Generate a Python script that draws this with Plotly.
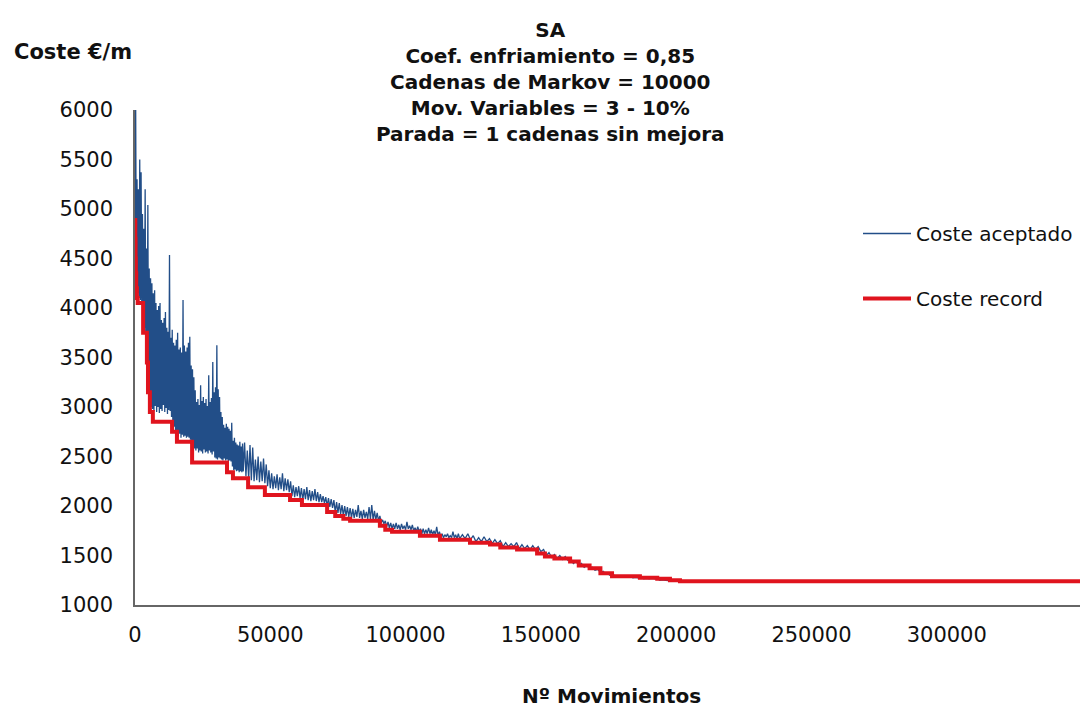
import plotly.graph_objects as go

# ---- data ----
# Coste aceptado, stretch 1: every 250 moves from 0
blue_step1 = 250
blue_seg1 = [4890, 6000, 4220, 5300, 4150, 5200, 4100, 5500, 4080, 5370,
             4060, 4950, 3900, 4800, 3800, 5200, 3600, 4600, 3450, 5040,
             3200, 4400, 3050, 4300, 3000, 4250, 2980, 4150, 2960, 4180,
             3010, 4050, 2950, 3980, 3000, 4020, 2940, 4050, 2980, 3880,
             2960, 3850, 3020, 3900, 2950, 3960, 2990, 3800, 2930, 3760,
             2970, 4535, 2960, 3700, 2900, 3780, 2820, 3650, 2800, 3620,
             2760, 3680, 2720, 3750, 2700, 3580, 2730, 3600, 2690, 3550,
             2720, 4080, 2700, 3620, 2710, 3560, 2690, 3600, 2700, 3650,
             2690, 3710, 2670, 3420, 2650, 3380, 2600, 3300, 2580, 3170,
             2560, 3050, 2580, 3080, 2540, 3020, 2560, 3220, 2550, 3060,
             2530, 3100, 2570, 3040, 2540, 3080, 2550, 3010, 2530, 3320,
             2560, 3050, 2540, 3090, 2520, 3455, 2550, 3150, 2490, 3200,
             2480, 3625, 2470, 3180, 2490, 3100, 2480, 2950, 2470, 2900,
             2460, 2820, 2480, 2790, 2460, 2830, 2470, 2800, 2450, 2780,
             2460, 2760, 2450, 2840, 2400, 2660, 2360, 2690, 2370, 2640,
             2350, 2620, 2360, 2610, 2340, 2650, 2350, 2600, 2340, 2630]
# stretch 2: every 500 moves from 40000
blue_start2 = 40000
blue_step2 = 500
blue_seg2 = [2350, 2640, 2300, 2560, 2270, 2616, 2260, 2590, 2250, 2470,
             2260, 2500, 2240, 2450, 2250, 2480, 2230, 2420, 2200, 2360,
             2180, 2330, 2170, 2300, 2180, 2320, 2160, 2290, 2170, 2330,
             2150, 2280, 2160, 2270, 2140, 2250, 2100, 2210, 2090, 2190,
             2100, 2200, 2080, 2180, 2060, 2170, 2070, 2190, 2060, 2160,
             2050, 2150, 2060, 2170, 2050, 2140, 2040, 2120, 2040, 2100,
             2030, 2090, 2000, 2080, 1990, 2070, 1980, 2060, 1940, 2040,
             1930, 2030, 1920, 2010, 1900, 2000, 1900, 1990, 1890, 1980,
             1880, 1970, 1880, 1960, 1890, 2010, 1880, 1950, 1870, 1960,
             1880, 1940, 1870, 1990, 1870, 2010, 1860, 1950, 1860, 1930,
             1850, 1900, 1830, 1860, 1820, 1850, 1790, 1840, 1780, 1830,
             1770, 1820, 1770, 1830, 1770, 1810, 1760, 1820, 1770, 1800,
             1760, 1840, 1770, 1800, 1760, 1810, 1750, 1780, 1740, 1790,
             1740, 1770, 1720, 1770, 1720, 1760, 1720, 1780, 1720, 1760,
             1710, 1750, 1710, 1790, 1700, 1740, 1690, 1720, 1680, 1710,
             1690, 1720, 1680, 1700, 1680, 1740, 1680, 1710, 1670, 1720]
# stretch 3: every 1000 moves from 120000
blue_start3 = 120000
blue_step3 = 1000
blue_seg3 = [1670, 1710, 1670, 1720, 1660, 1700, 1640, 1680, 1640, 1690,
             1640, 1670, 1620, 1660, 1620, 1650, 1590, 1630, 1590, 1620,
             1590, 1630, 1570, 1610, 1570, 1600, 1560, 1600, 1560, 1590,
             1540, 1560, 1500, 1530, 1480, 1510, 1470, 1500, 1460, 1490,
             1450, 1470, 1420, 1440, 1400, 1420, 1380, 1400, 1370, 1380,
             1350, 1360, 1330, 1340, 1310, 1310, 1290, 1300, 1290, 1290,
             1280, 1290, 1280, 1290, 1275, 1280, 1275, 1280, 1265, 1270,
             1265, 1270, 1265, 1265, 1250, 1255, 1250, 1250, 1245, 1245,
             1240]
blue_end_x = 352000
blue_end_y = 1240

# Coste record (step line)
red_x = [0, 100, 200, 300, 450, 700, 1000, 3000, 4400, 4800, 5500, 6600,
         13700, 15500, 21100, 34000, 36200, 41800, 48000, 57300, 61700,
         71000, 74000, 77000, 79500, 90500, 92500, 95000, 105300, 112700,
         123800, 131200, 135000, 141200, 148600, 151500, 155000, 160800,
         164000, 168000, 172000, 176300, 186600, 193000, 197700, 201400,
         352000]
red_y = [4890, 4700, 4500, 4350, 4200, 4100, 4050, 3750, 3450, 3150, 2950,
         2850, 2750, 2650, 2440, 2340, 2280, 2190, 2110, 2060, 2010, 1940,
         1900, 1870, 1850, 1800, 1760, 1740, 1700, 1660, 1630, 1610, 1580,
         1560, 1520, 1490, 1470, 1440, 1400, 1370, 1320, 1290, 1275, 1265,
         1250, 1240, 1240]

y_ticks = [1000, 1500, 2000, 2500, 3000, 3500, 4000, 4500, 5000, 5500, 6000]
x_ticks = [0, 50000, 100000, 150000, 200000, 250000, 300000]

title_lines = ["SA", "Coef. enfriamiento = 0,85", "Cadenas de Markov = 10000",
               "Mov. Variables = 3 - 10%", "Parada = 1 cadenas sin mejora"]
y_title = "Coste €/m"
x_title = "Nº Movimientos"
name_blue = "Coste aceptado"
name_red = "Coste record"

# ---- build series ----
blue_x = ([i * blue_step1 for i in range(len(blue_seg1))] +
          [blue_start2 + i * blue_step2 for i in range(len(blue_seg2))] +
          [blue_start3 + i * blue_step3 for i in range(len(blue_seg3))] +
          [blue_end_x])
blue_y = blue_seg1 + blue_seg2 + blue_seg3 + [blue_end_y]

FONT = "DejaVu Sans"
# page body has an 8px margin, so the figure is 8px smaller and margins shifted
W, H = 1080, 703
L, T = 127, 102
PW, PH = 953, 495


def px_x(sx):
    return (sx - 135) / PW


def px_y(sy):
    return 1 - (sy - 110) / PH


fig = go.Figure()
fig.add_trace(go.Scatter(x=blue_x, y=blue_y, mode="lines", name=name_blue,
                         line=dict(color="#224E88", width=1.3),
                         legendgroup="a"))
fig.add_trace(go.Scatter(x=red_x, y=red_y, mode="lines", name=name_red,
                         line=dict(color="#E0141E", width=4, shape="hv"),
                         legendgroup="b"))

fig.update_layout(
    width=W, height=H,
    margin=dict(l=L, r=0, t=T, b=H - T - PH),
    plot_bgcolor="white", paper_bgcolor="white",
    font=dict(family=FONT, size=21, color="#111"),
    showlegend=True,
    legend=dict(x=px_x(858), y=px_y(214), xanchor="left", yanchor="top",
                font=dict(family=FONT, size=20, color="#111"),
                tracegroupgap=36, bgcolor="rgba(0,0,0,0)", itemwidth=48),
    xaxis=dict(range=[0, 352200], tickvals=x_ticks,
               ticktext=[str(v) for v in x_ticks],
               showgrid=False, zeroline=False, showline=True,
               linecolor="#666", linewidth=1.5, ticks="",
               ticklabelstandoff=10),
    yaxis=dict(range=[1000, 6000], tickvals=y_ticks,
               ticktext=[str(v) for v in y_ticks],
               showgrid=False, zeroline=False, showline=True,
               linecolor="#666", linewidth=1.5, ticks="",
               ticklabelstandoff=16),
)

fig.add_annotation(text="<b>" + "<br>".join(title_lines) + "</b>",
                   xref="paper", yref="paper", x=px_x(550), y=px_y(82),
                   xanchor="center", yanchor="middle", showarrow=False,
                   font=dict(family=FONT, size=20, color="#111"))
fig.add_annotation(text="<b>" + y_title + "</b>", xref="paper", yref="paper",
                   x=px_x(12), y=px_y(52),
                   xanchor="left", yanchor="middle", showarrow=False,
                   font=dict(family=FONT, size=21, color="#111"))
fig.add_annotation(text="<b>" + x_title + "</b>", xref="paper", yref="paper",
                   x=px_x(611), y=px_y(696),
                   xanchor="center", yanchor="middle", showarrow=False,
                   font=dict(family=FONT, size=20, color="#111"))

fig.write_html("out.html")
